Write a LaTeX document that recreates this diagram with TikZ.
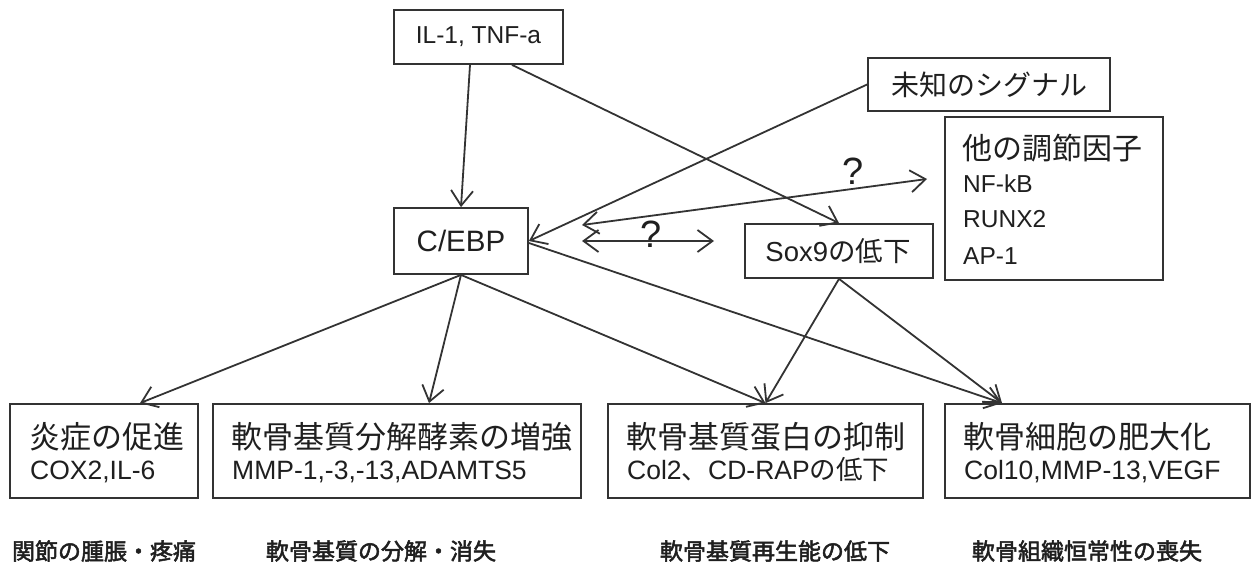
\documentclass[tikz,border=0pt]{standalone}
\usepackage{fontspec}
\setmainfont{Liberation Sans}
\newfontfamily\jp{Noto Sans CJK JP}
\newfontfamily\jpm[FakeBold=2.2]{Noto Sans CJK JP}
\usetikzlibrary{arrows.meta}
\definecolor{ink}{HTML}{333333}
\tikzset{
  box/.style={draw=ink, line width=1.8pt, inner sep=0pt, fill=white},
  txt/.style={inner sep=0pt, text=black!88},
  conn/.style={draw=ink, line width=1.8pt, -{Straight Barb[length=15pt,width=22pt,line width=1.8pt]}},
  dbl/.style={draw=ink, line width=1.8pt, {Straight Barb[length=15pt,width=22pt,line width=1.8pt]}-{Straight Barb[length=15pt,width=22pt,line width=1.8pt]}},
}
\newcommand{\fs}[1]{\fontsize{#1}{#1}\selectfont}
\begin{document}
\begin{tikzpicture}[x=1pt,y=-1pt]
\useasboundingbox (0,0) rectangle (1252,565);
% boxes
\node[box, minimum width=169pt, minimum height=54pt] (il) at (478.5,37) {};
\node[txt] (iltxt) at (478.5,37) {\fs{24.5}IL-1, TNF-a};
\node[box, minimum width=242pt, minimum height=53pt] (unk) at (989,84.5) {};
\node[txt] (unktxt) at (989,84.5) {\fs{28}\jp 未知のシグナル};
\node[box, minimum width=218pt, minimum height=163pt] (oth) at (1054,198.5) {};
\node[txt, anchor=base west] (othT) at (962,159) {\fs{30}\jp 他の調節因子};
\node[txt, anchor=base west] (othA) at (963,192) {\fs{24.5}NF-kB};
\node[txt, anchor=base west] (othB) at (963,227) {\fs{24.5}RUNX2};
\node[txt, anchor=base west] (othC) at (963,264) {\fs{24.5}AP-1};
\node[box, minimum width=134pt, minimum height=66pt] (cebp) at (461,241) {};
\node[txt] (cebptxt) at (461,241) {\fs{29.5}C/EBP};
\node[box, minimum width=188pt, minimum height=54pt] (sox) at (839,251) {};
\node[txt] (soxtxt) at (838,251) {\fs{27.5}Sox9{\jp の低下}};
% bottom boxes
\node[box, minimum width=188pt, minimum height=94pt] (b1) at (104,451) {};
\node[box, minimum width=368pt, minimum height=94pt] (b2) at (397,451) {};
\node[box, minimum width=315pt, minimum height=94pt] (b3) at (765.5,451) {};
\node[box, minimum width=305pt, minimum height=94pt] (b4) at (1097.5,451) {};
\node[txt, anchor=base west] (b1t) at (29,448) {\fs{31}\jp 炎症の促進};
\node[txt, anchor=base west] (b1s) at (30,479) {\fs{26.5}COX2,IL-6};
\node[txt, anchor=base west] (b2t) at (231,448) {\fs{31}\jp 軟骨基質分解酵素の増強};
\node[txt, anchor=base west] (b2s) at (232,479) {\fs{26.5}MMP-1,-3,-13,ADAMTS5};
\node[txt, anchor=base west] (b3t) at (626,448) {\fs{31}\jp 軟骨基質蛋白の抑制};
\node[txt, anchor=base west] (b3s) at (627,479) {\fs{26.5}Col2{\jp 、}CD-RAP{\jp の低下}};
\node[txt, anchor=base west] (b4t) at (963,448) {\fs{31}\jp 軟骨細胞の肥大化};
\node[txt, anchor=base west] (b4s) at (964,479) {\fs{26.5}Col10,MMP-13,VEGF};
% bottom labels
\node[txt] (l1) at (104,551) {\fs{23}\jpm 関節の腫脹・疼痛};
\node[txt] (l2) at (381,551) {\fs{23}\jpm 軟骨基質の分解・消失};
\node[txt] (l3) at (775,551) {\fs{23}\jpm 軟骨基質再生能の低下};
\node[txt] (l4) at (1087,551) {\fs{23}\jpm 軟骨組織恒常性の喪失};
% connectors
\draw[conn] ([xshift=-8.5pt]il.south) -- (cebp.north);
\draw[conn] ([xshift=33.5pt]il.south) -- (sox.north);
\draw[conn] (unk.west) -- (cebp.east);
\draw[conn] (cebp.south) -- ([xshift=36pt]b1.north);
\draw[conn] (cebp.south) -- ([xshift=32pt]b2.north);
\draw[conn] (cebp.south) -- (b3.north);
\draw[conn] ([yshift=-2pt]cebp.east) -- ([xshift=-95.5pt]b4.north);
\draw[conn] (sox.south) -- (b3.north);
\draw[conn] (sox.south) -- ([xshift=-95.5pt]b4.north);
% double arrows with ?
\coordinate (q1a) at (582,241);
\coordinate (q1b) at (714,241);
\coordinate (q2a) at (582,225);
\coordinate (q2b) at (927,179);
\draw[dbl] (q1a) -- (q1b);
\draw[dbl] (q2a) -- (q2b);
\node[txt] (q1) at (651,234) {\fs{38}?};
\node[txt] (q2) at (853,171) {\fs{38}?};
\end{tikzpicture}
\end{document}
